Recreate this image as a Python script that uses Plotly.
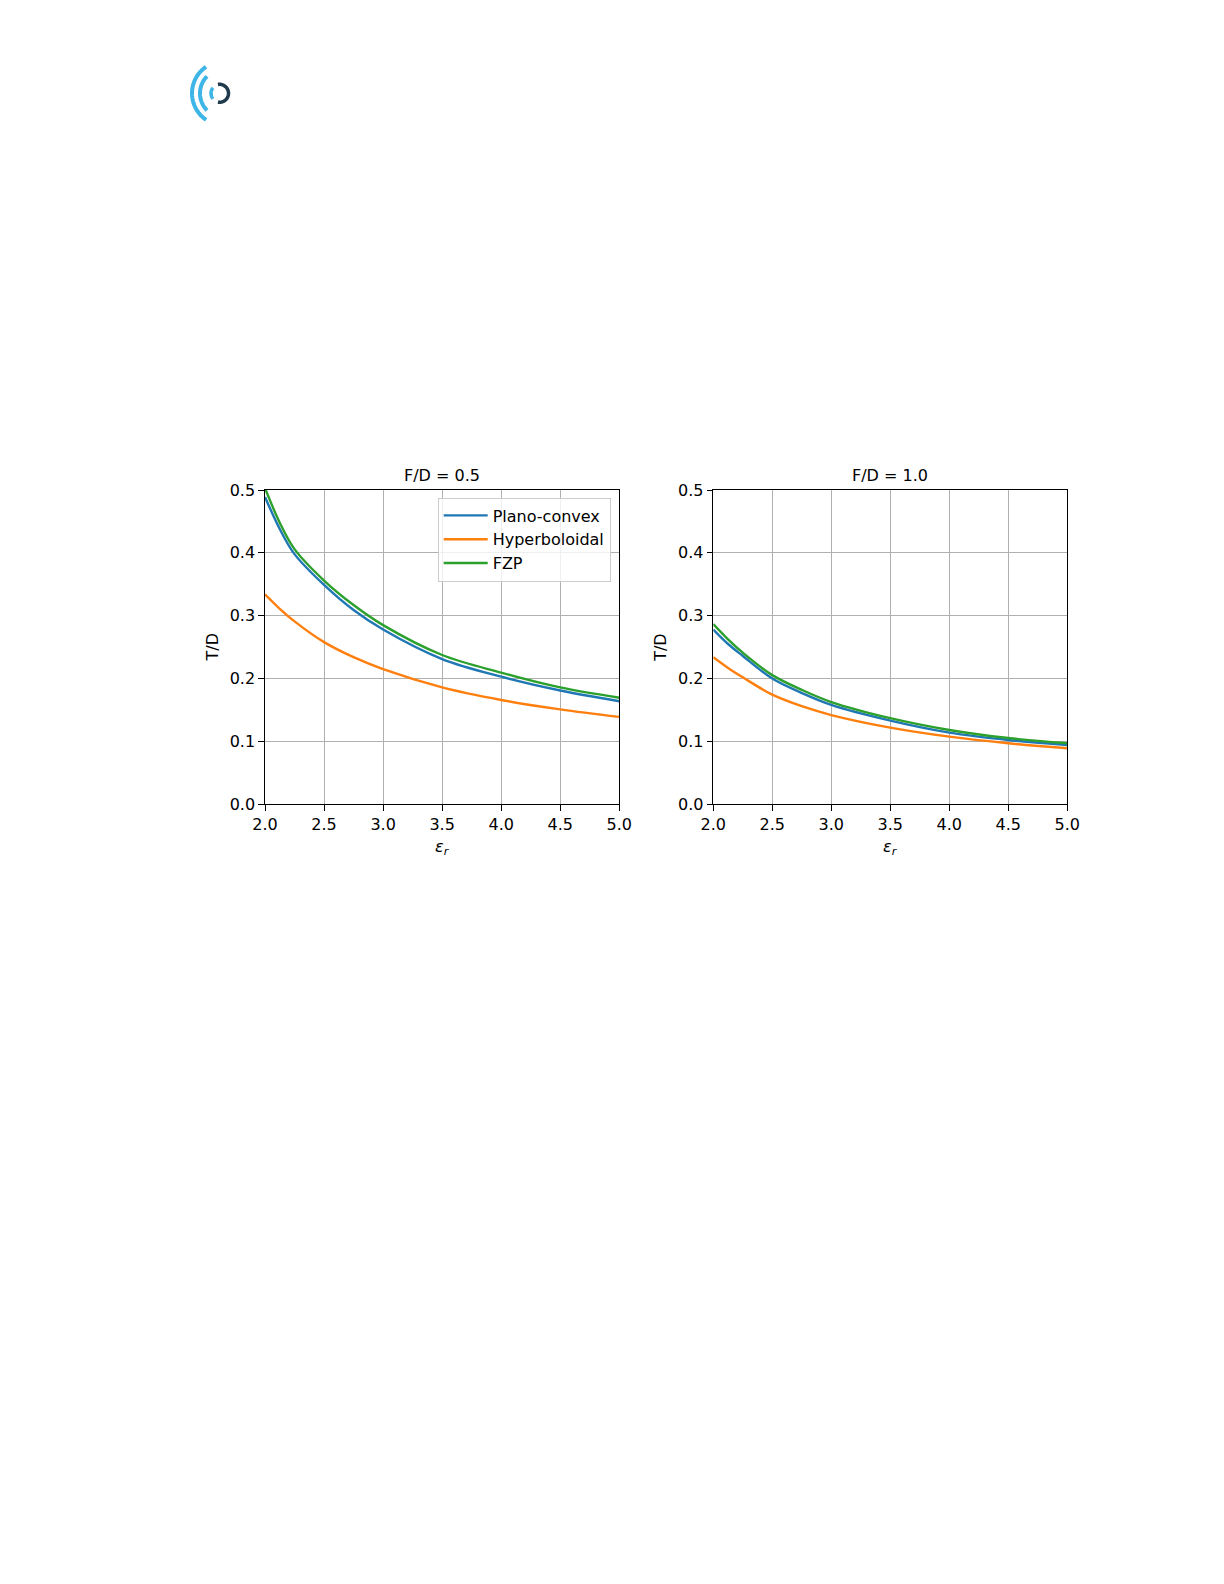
import numpy as np
import plotly.graph_objects as go

EPS_R = [2.0, 2.125, 2.25, 2.5, 2.75, 3.0, 3.5, 4.0, 4.5, 5.0]

# F/D = 0.5
PLANO_05 = [0.489, 0.438, 0.398, 0.349, 0.309, 0.278, 0.231, 0.203, 0.181, 0.164]
HYPER_05 = [0.334, 0.311, 0.291, 0.258, 0.234, 0.215, 0.186, 0.166, 0.151, 0.139]
FZP_05 = [0.503, 0.448, 0.406, 0.356, 0.317, 0.285, 0.2375, 0.2095, 0.186, 0.1696]

# F/D = 1.0
PLANO_10 = [0.278, 0.255, 0.236, 0.200, 0.177, 0.158, 0.133, 0.114, 0.1023, 0.0944]
HYPER_10 = [0.234, 0.217, 0.202, 0.1744, 0.156, 0.142, 0.122, 0.1076, 0.0971, 0.0891]
FZP_10 = [0.2868, 0.2625, 0.2412, 0.2055, 0.182, 0.1627, 0.137, 0.1182, 0.1054, 0.0971]

SERIES = ["Plano-convex", "Hyperboloidal", "FZP"]
COLORS = {"Plano-convex": "#1f77b4", "Hyperboloidal": "#ff7f0e", "FZP": "#2ca02c"}
PANELS = [
    ("F/D = 0.5", [PLANO_05, HYPER_05, FZP_05]),
    ("F/D = 1.0", [PLANO_10, HYPER_10, FZP_10]),
]

# page is 1224x1584; the html body keeps its default 8px margin
PAGE_W, PAGE_H, BODY = 1224, 1584, 8
W, H = PAGE_W - 2 * BODY, PAGE_H - 2 * BODY
FONT = "DejaVu Sans"


def px(x):
    return (x - BODY) / W


def py(y):
    return 1 - (y - BODY) / H


# axes boxes in page pixels
AX_X = [(265, 619.3), (713.3, 1067.3)]
AX_Y = (490, 804.3)

fig = go.Figure()

for i, (title, values) in enumerate(PANELS):
    sfx = "" if i == 0 else str(i + 1)
    for name, ys in zip(SERIES, values):
        fig.add_trace(go.Scatter(
            x=EPS_R, y=ys, name=name, mode="lines",
            line=dict(color=COLORS[name], width=2.4, shape="spline", smoothing=1.0),
            showlegend=(i == 0), legendgroup=name,
            xaxis="x" + sfx, yaxis="y" + sfx,
        ))

    x0, x1 = AX_X[i]
    axis_common = dict(
        showline=True, linecolor="black", linewidth=1.3, mirror=True,
        ticks="outside", ticklen=5.5, tickwidth=1.3, tickcolor="black",
        showgrid=True, gridcolor="#b0b0b0", gridwidth=1.2, zeroline=False,
        tickfont=dict(family=FONT, size=16, color="black"),
        tickformat=".1f", automargin=False,
    )
    fig.update_layout(**{
        "xaxis" + sfx: dict(axis_common, domain=[px(x0), px(x1)], range=[2, 5],
                            tick0=2, dtick=0.5, anchor="y" + sfx),
        "yaxis" + sfx: dict(axis_common, domain=[py(AX_Y[1]), py(AX_Y[0])], range=[0, 0.5],
                            tick0=0, dtick=0.1, anchor="x" + sfx),
    })

    cx = (x0 + x1) / 2
    fig.add_annotation(x=px(cx), y=py(475), xref="paper", yref="paper", text=title,
                       showarrow=False, xanchor="center", yanchor="middle",
                       font=dict(family=FONT, size=16, color="black"))
    fig.add_annotation(x=px(cx), y=py(847), xref="paper", yref="paper",
                       text="<i>ε</i><sub><i>r</i></sub>",
                       showarrow=False, xanchor="center", yanchor="middle",
                       font=dict(family=FONT, size=16, color="black"))
    fig.add_annotation(x=px(x0 - 53.5), y=py(648), xref="paper", yref="paper", text="T/D",
                       showarrow=False, textangle=-90, xanchor="center", yanchor="middle",
                       font=dict(family=FONT, size=16, color="black"))


# logo: three light arcs plus a dark one
def arc(cx, cy, r, a0, a1, n=40):
    t = np.radians(np.linspace(a0, a1, n))
    pts = [f"{px(cx + r * np.cos(a)):.5f},{py(cy - r * np.sin(a)):.5f}" for a in t]
    return "M " + " L ".join(pts)


LIGHT = "#3db5e7"
DARK = "#1f3a4d"
for path, color, w in [
    (arc(224, 93.3, 32, 124, 236), LIGHT, 4),
    (arc(224, 93.3, 24, 135, 225), LIGHT, 4),
    (arc(219.5, 93.3, 8.5, 140, 220), LIGHT, 3.5),
    (arc(219.5, 93.3, 9, -100, 100), DARK, 3.5),
]:
    fig.add_shape(type="path", path=path, xref="paper", yref="paper",
                  line=dict(color=color, width=w))

fig.update_layout(
    width=W, height=H, autosize=False,
    margin=dict(l=0, r=0, t=0, b=0, pad=0, autoexpand=False),
    paper_bgcolor="white", plot_bgcolor="white",
    legend=dict(
        x=px(610.7), y=py(497.5), xanchor="right", yanchor="top",
        bgcolor="rgba(255,255,255,0.8)", bordercolor="#cccccc", borderwidth=1,
        font=dict(family=FONT, size=16, color="black"),
        tracegroupgap=0, itemwidth=44,
    ),
)

fig.write_html("out.html", config={"displayModeBar": False})
